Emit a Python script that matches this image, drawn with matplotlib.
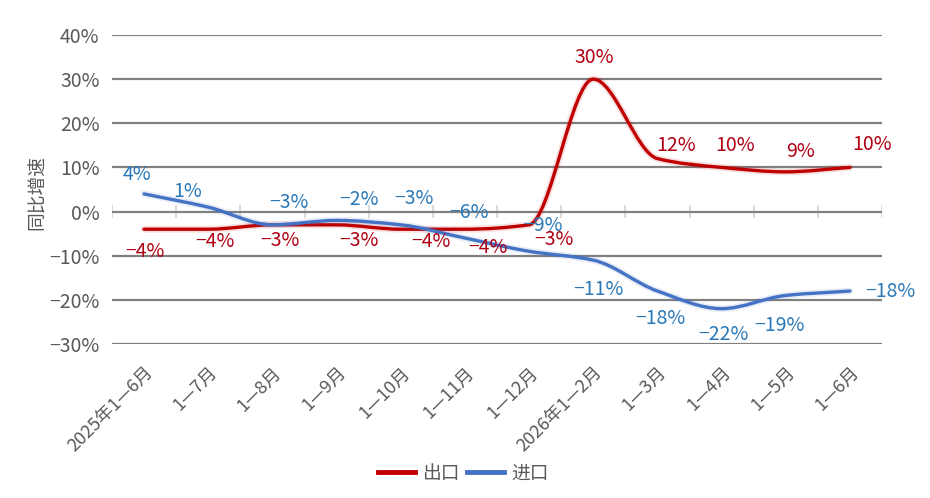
import numpy as np
import matplotlib
matplotlib.use("Agg")
import matplotlib.pyplot as plt
from matplotlib.path import Path
from matplotlib.patches import PathPatch
from matplotlib.lines import Line2D
import matplotlib.patheffects as pe

# Fonts: CJK first, DejaVu as fallback
plt.rcParams['font.family'] = ['Noto Sans CJK SC', 'DejaVu Sans']

# Data
months = ["2025年1—6月", "1—7月", "1—8月", "1—9月", "1—10月", "1—11月",
          "1—12月", "2026年1—2月", "1—3月", "1—4月", "1—5月", "1—6月"]
exports = [-4, -4, -3, -3, -4, -4, -3, 30, 12, 10, 9, 10]
imports = [4, 1, -3, -2, -3, -6, -9, -11, -18, -22, -19, -18]

# Label offsets in pixels (dx, dy), hand placed like the original
export_offsets = [(1, -22), (7, -12), (8, -16), (22, -16), (30, -12), (23, -18),
                  (25, -15), (1, 22), (19, 13), (13, 22), (15, 20), (22, 23)]
import_offsets = [(-7, 19), (-21, 16), (17, 22), (22, 21), (13, 26), (4, 26),
                  (14, 26), (5, -29), (3, -27), (2, -26), (-6, -30), (40, 0)]

RED = '#C00000'
BLUE = '#4472C4'
RED_TXT = '#B00012'
BLUE_TXT = '#2A78B8'
GREY = '#595959'


# Smoothed line: monotone cubic (Fritsch-Carlson) tangents as Bezier segments
def smooth_path(xs, ys):
    xs = np.asarray(xs, float)
    ys = np.asarray(ys, float)
    n = len(xs)
    d = np.diff(ys) / np.diff(xs)
    m = np.zeros(n)
    m[0] = d[0]
    m[-1] = d[-1]
    for i in range(1, n - 1):
        if d[i - 1] * d[i] <= 0:
            m[i] = 0.0
        else:
            m[i] = 2.0 / (1.0 / d[i - 1] + 1.0 / d[i])
    verts = [(xs[0], ys[0])]
    codes = [Path.MOVETO]
    for i in range(n - 1):
        h = xs[i + 1] - xs[i]
        verts += [(xs[i] + h / 3, ys[i] + m[i] * h / 3),
                  (xs[i + 1] - h / 3, ys[i + 1] - m[i + 1] * h / 3),
                  (xs[i + 1], ys[i + 1])]
        codes += [Path.CURVE4] * 3
    return Path(verts, codes)


def fmt(v):
    return ("−%d%%" % abs(v)) if v < 0 else ("%d%%" % v)


def main():
    fig = plt.figure(figsize=(9.3, 4.98), dpi=100)
    ax = fig.add_axes([112 / 930, 1 - 344 / 498, 770 / 930, 309 / 498])

    x = np.arange(len(months))
    ax.set_xlim(-0.5, len(months) - 0.5)
    ax.set_ylim(-30, 40)

    # Gridlines
    yt = np.arange(-30, 41, 10)
    ax.set_yticks(yt)
    ax.set_yticklabels(["−%d%%" % abs(t) if t < 0 else "%d%%" % t for t in yt])
    for t in yt:
        ax.axhline(t, color='#808080', lw=1.6, zorder=1)

    # small category dividers on the 0% line
    ax.vlines(np.arange(-0.5, len(months)), -1.4, 1.4, color='#d4d4d4', lw=1.2, zorder=0)

    # Lines
    for vals, col in [(exports, RED), (imports, BLUE)]:
        patch = PathPatch(smooth_path(x, vals), facecolor='none', edgecolor=col,
                          lw=2.4, capstyle='round', zorder=3)
        patch.set_path_effects([pe.Stroke(linewidth=5, foreground=col, alpha=0.12), pe.Normal()])
        ax.add_patch(patch)

    # Data labels
    for i in range(len(months)):
        ax.annotate(fmt(exports[i]), (x[i], exports[i]), xytext=export_offsets[i],
                    textcoords='offset pixels', ha='center', va='center',
                    fontsize=14, fontweight='light', color=RED_TXT, zorder=5)
        ax.annotate(fmt(imports[i]), (x[i], imports[i]), xytext=import_offsets[i],
                    textcoords='offset pixels', ha='center', va='center',
                    fontsize=14, fontweight='light', color=BLUE_TXT, zorder=5)

    # Axes styling
    ax.set_xticks(x)
    ax.set_xticklabels(months, rotation=45, ha='right', va='top', rotation_mode='anchor',
                       fontsize=13, fontweight='light', color=GREY)
    ax.tick_params(axis='x', length=0, pad=14)
    ax.tick_params(axis='y', length=0, pad=9, labelsize=14, labelcolor=GREY)
    for lab in ax.get_yticklabels():
        lab.set_fontweight('light')
    for s in ax.spines.values():
        s.set_visible(False)

    fig.text(38 / 930, 1 - 193 / 498, "同比增速", rotation=90, ha='center', va='center',
             fontsize=13.5, fontweight='light', color=GREY)

    # Legend
    handles = [Line2D([], [], color=RED, lw=3.5), Line2D([], [], color=BLUE, lw=3.5)]
    fig.legend(handles, ["出口", "进口"], loc='center', bbox_to_anchor=(463 / 930, 1 - 473 / 498),
               ncol=2, frameon=False, prop={'size': 13.5, 'weight': 'light'},
               handlelength=2.0, handletextpad=0.35, columnspacing=0.4, labelcolor=GREY)

    fig.savefig("out.png", dpi=100)


if __name__ == "__main__":
    main()
